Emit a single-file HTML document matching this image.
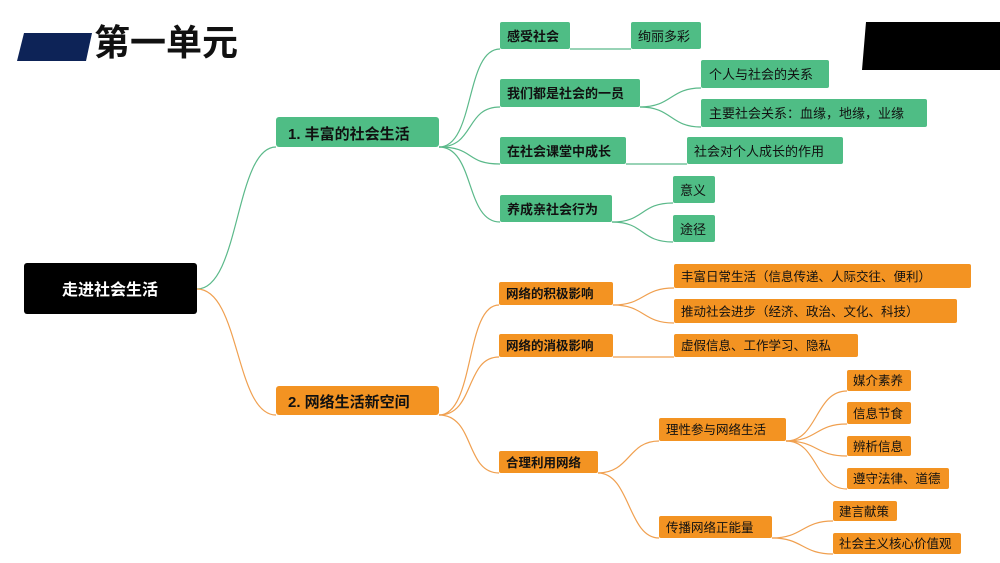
<!DOCTYPE html>
<html><head><meta charset="utf-8"><style>
html,body{margin:0;padding:0;background:#fff;}
svg{display:block;}
text{font-family:"Liberation Sans","Noto Sans CJK SC",sans-serif;fill:#111;}
.b{font-weight:bold;}
</style></head><body>
<svg width="1000" height="563" viewBox="0 0 1000 563" xmlns="http://www.w3.org/2000/svg">
<polygon points="24,33 92,33 86,61 17,61" fill="#0d2357"/>
<text x="94" y="55" font-size="36" class="b" fill="#000">第一单元</text>
<polygon points="866,22 1000,22 1000,70 862,70" fill="#000"/>

<g fill="none" stroke="#5bb98a" stroke-width="1.2">
<path d="M197,289 C240,289 235,147 276,147"/>
<path d="M439,147 C475,147 465,49 500,49"/>
<path d="M439,147 C475,147 465,107 500,107"/>
<path d="M439,147 C475,147 465,164 500,164"/>
<path d="M439,147 C475,147 465,222 500,222"/>
<path d="M570,49 L631,49"/>
<path d="M640,107 C672,107 670,88 701,88"/>
<path d="M640,107 C672,107 670,127 701,127"/>
<path d="M626,164 L687,164"/>
<path d="M612,222 C645,222 640,203 673,203"/>
<path d="M612,222 C645,222 640,242 673,242"/>
</g>
<g fill="none" stroke="#f0a050" stroke-width="1.2">
<path d="M197,289 C240,289 235,415 276,415"/>
<path d="M439,415 C475,415 465,305 499,305"/>
<path d="M439,415 C475,415 465,357 499,357"/>
<path d="M439,415 C475,415 465,473 499,473"/>
<path d="M613,305 C645,305 642,288 674,288"/>
<path d="M613,305 C645,305 642,323 674,323"/>
<path d="M613,357 L674,357"/>
<path d="M598,473 C630,473 628,441 659,441"/>
<path d="M598,473 C630,473 628,538 659,538"/>
<path d="M786,441 C818,441 815,391 847,391"/>
<path d="M786,441 C818,441 815,424 847,424"/>
<path d="M786,441 C818,441 815,456 847,456"/>
<path d="M786,441 C818,441 815,489 847,489"/>
<path d="M772,538 C803,538 802,521 833,521"/>
<path d="M772,538 C803,538 802,554 833,554"/>
</g>

<rect x="24" y="263" width="173" height="51" rx="3" fill="#000"/>
<text x="110" y="295" font-size="16" class="b" fill="#fff" text-anchor="middle" style="fill:#fff">走进社会生活</text>

<g fill="#4fbd85">
<rect x="276" y="117" width="163" height="30" rx="3"/>
<rect x="500" y="22" width="70" height="27" rx="2"/>
<rect x="631" y="22" width="70" height="27" rx="2"/>
<rect x="500" y="79" width="140" height="28" rx="2"/>
<rect x="701" y="60" width="128" height="28" rx="2"/>
<rect x="701" y="99" width="226" height="28" rx="2"/>
<rect x="500" y="137" width="126" height="27" rx="2"/>
<rect x="687" y="137" width="156" height="27" rx="2"/>
<rect x="500" y="195" width="112" height="27" rx="2"/>
<rect x="673" y="176" width="42" height="27" rx="2"/>
<rect x="673" y="215" width="42" height="27" rx="2"/>
</g>
<text x="288" y="139" font-size="15" class="b">1. 丰富的社会生活</text>
<g font-size="13">
<text x="507" y="41" class="b">感受社会</text>
<text x="638" y="41">绚丽多彩</text>
<text x="507" y="98" class="b">我们都是社会的一员</text>
<text x="709" y="79">个人与社会的关系</text>
<text x="709" y="118">主要社会关系：血缘，地缘，业缘</text>
<text x="507" y="156" class="b">在社会课堂中成长</text>
<text x="694" y="156">社会对个人成长的作用</text>
<text x="507" y="214" class="b">养成亲社会行为</text>
<text x="680" y="195">意义</text>
<text x="680" y="234">途径</text>
</g>

<g fill="#f39322">
<rect x="276" y="386" width="163" height="29" rx="3"/>
<rect x="499" y="282" width="114" height="23" rx="2"/>
<rect x="674" y="264" width="297" height="24" rx="2"/>
<rect x="674" y="299" width="283" height="24" rx="2"/>
<rect x="499" y="334" width="114" height="23" rx="2"/>
<rect x="674" y="334" width="184" height="23" rx="2"/>
<rect x="499" y="451" width="99" height="22" rx="2"/>
<rect x="659" y="418" width="127" height="23" rx="2"/>
<rect x="659" y="516" width="113" height="22" rx="2"/>
<rect x="847" y="370" width="64" height="21" rx="2"/>
<rect x="847" y="402" width="64" height="22" rx="2"/>
<rect x="847" y="436" width="64" height="20" rx="2"/>
<rect x="847" y="468" width="102" height="21" rx="2"/>
<rect x="833" y="501" width="64" height="20" rx="2"/>
<rect x="833" y="533" width="128" height="21" rx="2"/>
</g>
<text x="288" y="407" font-size="15" class="b">2. 网络生活新空间</text>
<g font-size="12.5">
<text x="506" y="298" class="b">网络的积极影响</text>
<text x="681" y="281">丰富日常生活（信息传递、人际交往、便利）</text>
<text x="681" y="316">推动社会进步（经济、政治、文化、科技）</text>
<text x="506" y="350" class="b">网络的消极影响</text>
<text x="681" y="350">虚假信息、工作学习、隐私</text>
<text x="506" y="467" class="b">合理利用网络</text>
<text x="666" y="434">理性参与网络生活</text>
<text x="666" y="532">传播网络正能量</text>
<text x="853" y="385">媒介素养</text>
<text x="853" y="418">信息节食</text>
<text x="853" y="451">辨析信息</text>
<text x="853" y="483">遵守法律、道德</text>
<text x="839" y="516">建言献策</text>
<text x="839" y="548">社会主义核心价值观</text>
</g>
</svg>
</body></html>
